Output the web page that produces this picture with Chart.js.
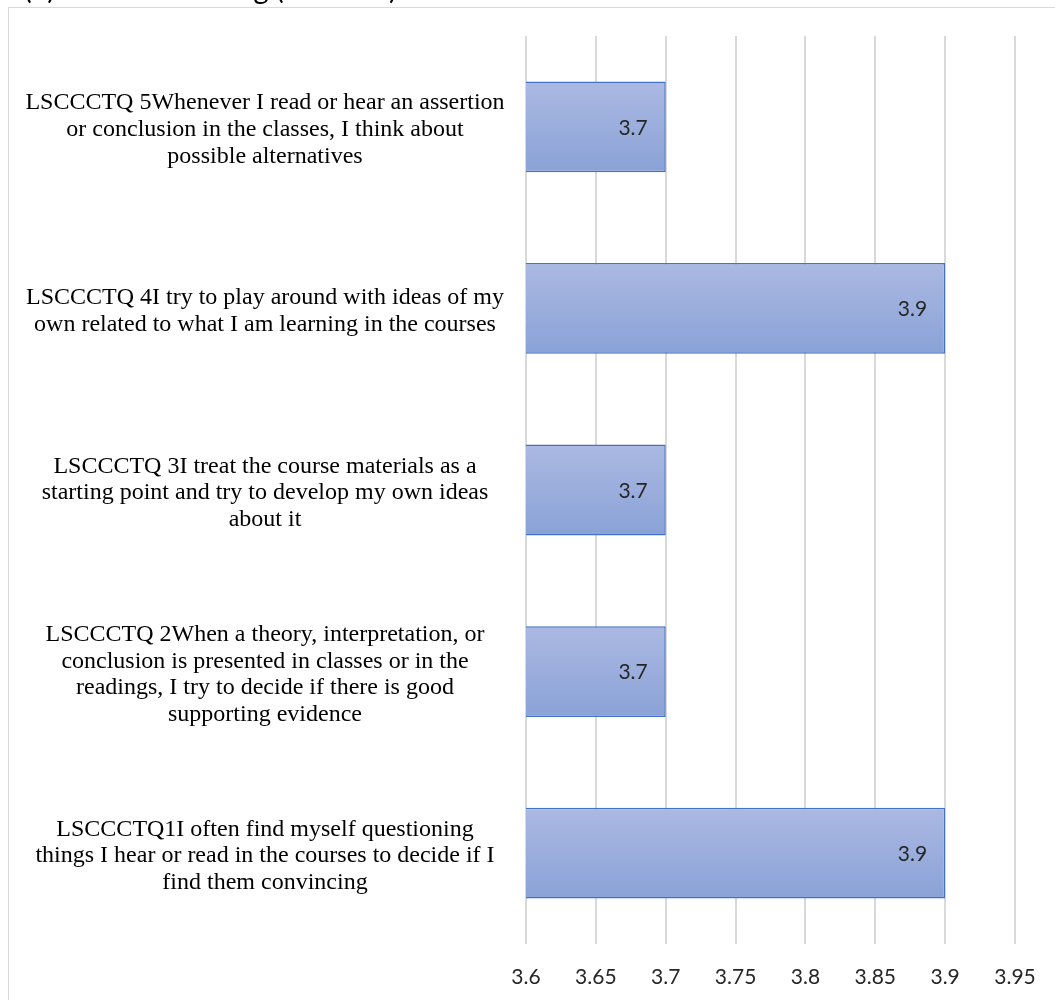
<!DOCTYPE html>
<html>
<head>
<meta charset="utf-8">
<script src="https://cdn.jsdelivr.net/npm/chart.js@4"></script>
<style>
  html, body { margin: 0; padding: 0; background: #fff; }
  #wrap { position: relative; width: 1055px; height: 1000px; overflow: hidden; }
  canvas { display: block; }
</style>
</head>
<body>
<div id="wrap"><canvas id="chart" width="1055" height="1000"></canvas></div>
<script>
// Survey items (top to bottom) and their mean scores
const itemLabels = [
  ["LSCCCTQ 5Whenever I read or hear an assertion", "or conclusion in the classes, I think about", "possible alternatives"],
  ["LSCCCTQ 4I try to play around with ideas of my", "own related to what I am learning in the courses"],
  ["LSCCCTQ 3I treat the course materials as a", "starting point and try to develop my own ideas", "about it"],
  ["LSCCCTQ 2When a theory, interpretation, or", "conclusion is presented in classes or in the", "readings, I try to decide if there is good", "supporting evidence"],
  ["LSCCCTQ1I often find myself questioning", "things I hear or read in the courses to decide if I", "find them convincing"]
];
const meanScores = [3.7, 3.9, 3.7, 3.7, 3.9];
const valueLabels = ["3.7", "3.9", "3.7", "3.7", "3.9"];
const xTickLabels = ["3.6", "3.65", "3.7", "3.75", "3.8", "3.85", "3.9", "3.95"];
const chartTitle = "(b) Critical Thinking (LSCCCT)";

const LABEL_FONT = '24px "Liberation Serif"';
const NUM_FONT = '21px Lato';

// Centre the multi-line item labels in the left column
const measureCtx = document.createElement('canvas').getContext('2d');
measureCtx.font = LABEL_FONT;
let widestLine = 0;
itemLabels.forEach(lines => lines.forEach(l => { widestLine = Math.max(widestLine, measureCtx.measureText(l).width); }));
const Y_AXIS_WIDTH = 526;
const LABEL_CENTER = 265;
const yTickPadding = Math.max(4, Y_AXIS_WIDTH - LABEL_CENTER - widestLine / 2);

// Frame and clipped heading
const framePlugin = {
  id: 'frame',
  beforeDraw(chart) {
    const ctx = chart.ctx;
    ctx.save();
    ctx.fillStyle = '#ffffff';
    ctx.fillRect(0, 0, chart.width, chart.height);
    ctx.strokeStyle = '#d9d9d9';
    ctx.lineWidth = 1;
    ctx.strokeRect(8.5, 7.5, 2000, 2000);
    ctx.font = '29px Lato';
    ctx.fillStyle = '#000000';
    ctx.textBaseline = 'alphabetic';
    ctx.textAlign = 'left';
    ctx.fillText(chartTitle, 24, -1);
    ctx.restore();
  }
};

// Vertical gradient fill on each bar
const gradientPlugin = {
  id: 'barGradient',
  beforeDatasetsDraw(chart) {
    const ctx = chart.ctx;
    chart.getDatasetMeta(0).data.forEach(el => {
      const p = el.getProps(['y', 'height'], true);
      const g = ctx.createLinearGradient(0, p.y - p.height / 2, 0, p.y + p.height / 2);
      g.addColorStop(0, '#abb9e2');
      g.addColorStop(1, '#8aa2d7');
      el.options = Object.assign({}, el.options, { backgroundColor: g });
    });
  }
};

// Value labels inside the bar ends
const valueLabelPlugin = {
  id: 'valueLabels',
  afterDatasetsDraw(chart) {
    const ctx = chart.ctx;
    ctx.save();
    ctx.font = NUM_FONT;
    ctx.fillStyle = '#262626';
    ctx.textAlign = 'right';
    ctx.textBaseline = 'middle';
    chart.getDatasetMeta(0).data.forEach((el, i) => {
      const p = el.getProps(['x', 'y'], true);
      ctx.fillText(valueLabels[i], p.x - 18, p.y + 1);
    });
    ctx.restore();
  }
};

new Chart(document.getElementById('chart'), {
  type: 'bar',
  data: {
    labels: itemLabels,
    datasets: [{
      data: meanScores,
      backgroundColor: '#9aaedc',
      borderColor: '#4472c4',
      borderWidth: 1.5,
      borderSkipped: false,
      categoryPercentage: 1,
      barPercentage: 0.5
    }]
  },
  options: {
    indexAxis: 'y',
    responsive: false,
    animation: false,
    events: [],
    layout: { padding: { top: 36, right: 40, left: 0, bottom: 0 } },
    plugins: {
      legend: { display: false },
      title: { display: false },
      tooltip: { enabled: false }
    },
    scales: {
      x: {
        min: 3.6,
        max: 3.95,
        ticks: {
          stepSize: 0.05,
          padding: 21,
          color: '#262626',
          font: { family: 'Lato', size: 21 },
          maxRotation: 0,
          autoSkip: false,
          callback: (v, i) => xTickLabels[i]
        },
        grid: { color: '#d9d9d9', lineWidth: 2, drawTicks: false },
        border: { display: false },
        afterFit(s) {
          s.height = 56;
          s.paddingLeft = 0;
          s.paddingRight = 0;
        }
      },
      y: {
        ticks: {
          crossAlign: 'center',
          padding: yTickPadding,
          labelOffset: 3,
          color: '#000000',
          font: { family: 'Liberation Serif', size: 24, lineHeight: 1.11 },
          autoSkip: false
        },
        grid: { display: false, drawTicks: false },
        border: { display: false },
        afterFit(s) {
          s.width = Y_AXIS_WIDTH;
          s.paddingTop = 0;
          s.paddingBottom = 0;
        }
      }
    }
  },
  plugins: [framePlugin, gradientPlugin, valueLabelPlugin]
});
</script>
</body>
</html>
